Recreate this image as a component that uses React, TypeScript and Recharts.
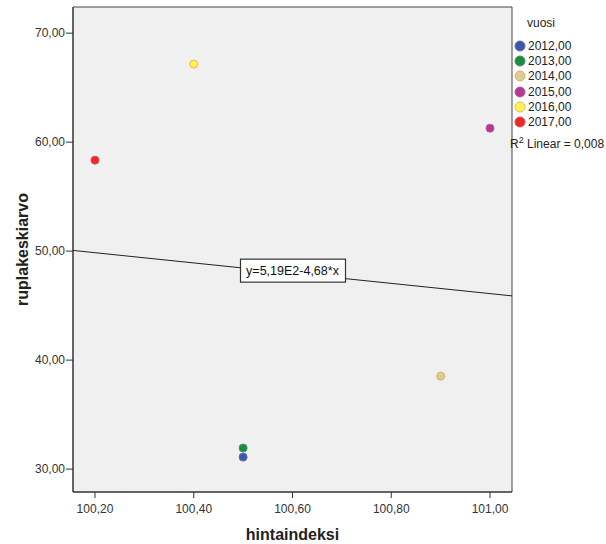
import React from 'react';
import {
  ScatterChart, Scatter, XAxis, YAxis, CartesianGrid, ReferenceLine, ReferenceDot,
} from 'recharts';

const years = ['2012,00', '2013,00', '2014,00', '2015,00', '2016,00', '2017,00'];
const hintaindeksi = [100.5, 100.5, 100.9, 101.0, 100.4, 100.2];
const ruplakeskiarvo = [31.1, 31.93, 38.53, 61.28, 67.16, 58.35];
const fills = ['#3b56aa', '#1a8a44', '#d6cf9c', '#b23a90', '#fff25a', '#e5292d'];
const strokes = ['#5a6fb8', '#3a9a5c', '#f2aa4a', '#bf5aa0', '#f5b83c', '#ee4a4a'];
const xTicks = [100.2, 100.4, 100.6, 100.8, 101.0];
const yTicks = [30, 40, 50, 60, 70];
const xDomain: [number, number] = [100.1555, 101.0445];
const yDomain: [number, number] = [27.9, 72.4];
const r2Text = '0,008';
const fitLabel = 'y=5,19E2-4,68*x';

// least-squares fit of the plotted points
const n = hintaindeksi.length;
const mx = hintaindeksi.reduce((a, b) => a + b, 0) / n;
const my = ruplakeskiarvo.reduce((a, b) => a + b, 0) / n;
let sxy = 0, sxx = 0;
for (let i = 0; i < n; i++) {
  sxy += (hintaindeksi[i] - mx) * (ruplakeskiarvo[i] - my);
  sxx += (hintaindeksi[i] - mx) ** 2;
}
const slope = sxy / sxx;
const intercept = my - slope * mx;
const fit = (x: number) => intercept + slope * x;

const fmt = (v: number) => v.toFixed(2).replace('.', ',');
const FONT = '"Liberation Sans", Arial, sans-serif';

export default function App() {
  return (
    <div style={{ position: 'absolute', left: 0, top: 0, width: 606, height: 544, background: '#fff', fontFamily: FONT }}>
      <ScatterChart width={606} height={544} margin={{ top: 7, right: 94, bottom: 2, left: 8 }}>
        <CartesianGrid fill="#f0f0f0" horizontal={false} vertical={false} />
        <XAxis
          type="number"
          dataKey="x"
          domain={xDomain}
          ticks={xTicks}
          allowDataOverflow
          tickFormatter={fmt}
          height={50}
          tickSize={6}
          tickMargin={6}
          axisLine={{ stroke: '#333', strokeWidth: 1.5 }}
          tickLine={{ stroke: '#333' }}
          tick={{ fill: '#333', fontSize: 12, fontFamily: FONT }}
          label={{ value: 'hintaindeksi', position: 'insideBottom', offset: 2, fill: '#222', fontSize: 16, fontWeight: 'bold', fontFamily: FONT }}
        />
        <YAxis
          type="number"
          dataKey="y"
          domain={yDomain}
          ticks={yTicks}
          allowDataOverflow
          tickFormatter={fmt}
          width={65}
          tickSize={7}
          tickMargin={1}
          axisLine={{ stroke: '#333', strokeWidth: 1.5 }}
          tickLine={{ stroke: '#333' }}
          tick={{ fill: '#333', fontSize: 12, fontFamily: FONT }}
          label={{
            content: (props: any) => {
              const vb = props.viewBox || { y: 7, height: 485 };
              const cy = vb.y + vb.height / 2;
              return (
                <text x={22} y={cy} transform={`rotate(-90, 22, ${cy})`} textAnchor="middle" dominantBaseline="central"
                  fill="#222" fontSize={16} fontWeight="bold" fontFamily={FONT}>ruplakeskiarvo</text>
              );
            },
          }}
        />
        <ReferenceLine y={yDomain[1]} stroke="#444" strokeWidth={1} ifOverflow="visible" />
        <ReferenceLine x={xDomain[1]} stroke="#444" strokeWidth={1} ifOverflow="visible" />
        <ReferenceLine
          segment={[{ x: xDomain[0], y: fit(xDomain[0]) }, { x: xDomain[1], y: fit(xDomain[1]) }]}
          stroke="#222"
          strokeWidth={1}
          ifOverflow="visible"
        />
        <ReferenceDot
          x={100.6}
          y={fit(100.6)}
          ifOverflow="visible"
          shape={(p: any) => (
            <g>
              <rect x={p.cx - 52} y={p.cy - 14} width={105} height={23} fill="#fff" stroke="#333" strokeWidth={1.2} />
              <text x={p.cx} y={p.cy - 2.5} textAnchor="middle" dominantBaseline="central" fontSize={12.5} fontFamily={FONT} fill="#111">
                {fitLabel}
              </text>
            </g>
          )}
        />
        {years.map((yr, i) => (
          <Scatter
            key={yr}
            name={yr}
            data={[{ x: hintaindeksi[i], y: ruplakeskiarvo[i] }]}
            isAnimationActive={false}
            shape={(p: any) => (
              <circle cx={p.cx} cy={p.cy} r={4} fill={fills[i]} stroke={strokes[i]} strokeWidth={1} />
            )}
          />
        ))}
      </ScatterChart>
      <div style={{ position: 'absolute', left: 527, top: 16, fontSize: 12, color: '#222' }}>vuosi</div>
      {years.map((yr, i) => (
        <div key={yr} style={{ position: 'absolute', left: 514, top: 39 + i * 15.2, height: 14, display: 'flex', alignItems: 'center', fontSize: 12, color: '#222' }}>
          <svg width={12} height={12} style={{ marginRight: 2 }}>
            <circle cx={6} cy={6} r={5} fill={fills[i]} stroke={strokes[i]} strokeWidth={1} />
          </svg>
          <span>{yr}</span>
        </div>
      ))}
      <div style={{ position: 'absolute', left: 510, top: 135, fontSize: 12, color: '#222', whiteSpace: 'nowrap' }}>
        R<sup style={{ fontSize: 9 }}>2</sup> Linear = {r2Text}
      </div>
    </div>
  );
}
